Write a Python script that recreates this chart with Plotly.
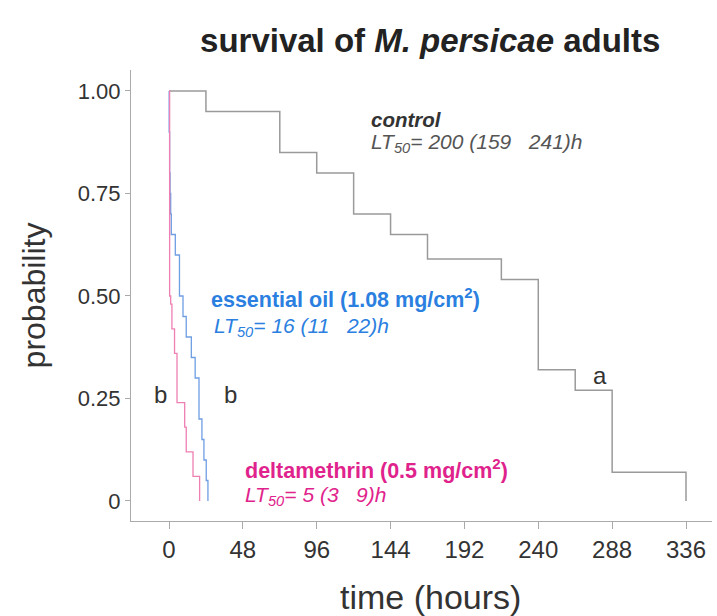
import plotly.graph_objects as go

# ---- data ----
control_t = [0, 24, 72, 96, 120, 144, 168, 216, 240, 264, 288, 336]
control_s = [1.0, 0.95, 0.85, 0.80, 0.70, 0.65, 0.59, 0.54, 0.32, 0.27, 0.07, 0.0]

oil_t = [0, 0.1, 0.4, 0.7, 1.1, 1.5, 4.1, 6.8, 9.1, 11.2, 14.5, 17.0, 19.5, 21.4, 22.7, 24.2, 25.3]
oil_s = [1.0, 0.90, 0.80, 0.75, 0.70, 0.65, 0.60, 0.50, 0.45, 0.40, 0.35, 0.30, 0.20, 0.15, 0.10, 0.05, 0.0]

delta_t = [0, 0.4, 1.1, 1.9, 3.6, 5.2, 10.2, 11.2, 15.6, 19.9]
delta_s = [1.0, 0.50, 0.48, 0.42, 0.36, 0.24, 0.18, 0.12, 0.06, 0.0]

x_ticks = [0, 48, 96, 144, 192, 240, 288, 336]
y_ticks = [0, 0.25, 0.5, 0.75, 1.0]
y_ticktext = ["0", "0.25", "0.50", "0.75", "1.00"]

FONT = "Liberation Sans, Arial, sans-serif"
GRAY_LINE = "#9a9a9a"
BLUE_LINE = "#6f9ee3"
PINK_LINE = "#ee7fb2"
BLUE_TXT = "#2b7fe0"
PINK_TXT = "#e0238c"

fig = go.Figure()
fig.add_trace(go.Scatter(x=control_t, y=control_s, mode="lines", line=dict(shape="hv", color=GRAY_LINE, width=1.5), showlegend=False))
fig.add_trace(go.Scatter(x=oil_t, y=oil_s, mode="lines", line=dict(shape="hv", color=BLUE_LINE, width=1.3), showlegend=False))
fig.add_trace(go.Scatter(x=delta_t, y=delta_s, mode="lines", line=dict(shape="hv", color=PINK_LINE, width=1.3), showlegend=False))

ann = []
def add(x, y, text, color, size, xanchor="left"):
    ann.append(dict(x=x, y=y, xref="x", yref="y", text=text, showarrow=False,
                    xanchor=xanchor, yanchor="middle", font=dict(family=FONT, size=size, color=color)))

nb = "\u00a0"
add(130, 0.93, "<b><i>control</i></b>", "#333333", 20.5)
add(130, 0.872, "<i>LT<sub>50</sub>= 200 (159" + nb*3 + "241)h</i>", "#555555", 21)
add(26, 0.495, "<b>essential oil (1.08 mg/cm<sup>2</sup>)</b>", BLUE_TXT, 21.5)
add(28, 0.424, "<i>LT<sub>50</sub>= 16 (11" + nb*3 + "22)h</i>", BLUE_TXT, 21)
add(48, 0.077, "<b>deltamethrin (0.5 mg/cm<sup>2</sup>)</b>", PINK_TXT, 21.5)
add(48, 0.013, "<i>LT<sub>50</sub>= 5 (3" + nb*3 + "9)h</i>", PINK_TXT, 21)
add(-5.5, 0.26, "b", "#333333", 24, "center")
add(40, 0.26, "b", "#333333", 24, "center")
add(280, 0.305, "a", "#333333", 24, "center")

# x-axis title (placed as a paper annotation so it can sit slightly right of centre, as in the reference)
ann.append(dict(x=(430 - 131) / 581, y=-76 / 451, xref="paper", yref="paper", text="time (hours)",
                showarrow=False, xanchor="center", yanchor="middle",
                font=dict(family=FONT, size=34, color="#333333")))

fig.update_layout(
    width=717, height=616,
    margin=dict(l=131, r=5, t=70, b=95),
    paper_bgcolor="white", plot_bgcolor="white",
    font=dict(family=FONT, color="#333333"),
    title=dict(text="<b>survival of <i>M. persicae</i> adults</b>", x=0.515, xref="paper",
               y=1 - 40/616, yref="container", xanchor="center", yanchor="middle",
               font=dict(size=33, color="#222222", family=FONT)),
    annotations=ann,
    xaxis=dict(range=[-24.7, 352.9], tickvals=x_ticks, ticks="outside", ticklen=7, tickcolor="#aaaaaa",
               showline=True, linecolor="#aaaaaa", linewidth=1, showgrid=False, zeroline=False,
               tickfont=dict(size=24, color="#333333")),
    yaxis=dict(range=[-0.0488, 1.0512], tickvals=y_ticks, ticktext=y_ticktext, ticks="outside", ticklen=5,
               tickcolor="#aaaaaa", showline=True, linecolor="#aaaaaa", linewidth=1, showgrid=False, zeroline=False,
               tickfont=dict(size=22, color="#333333"),
               title=dict(text="probability", font=dict(size=32, color="#333333"), standoff=22)),
)

fig.write_html("out.html")
